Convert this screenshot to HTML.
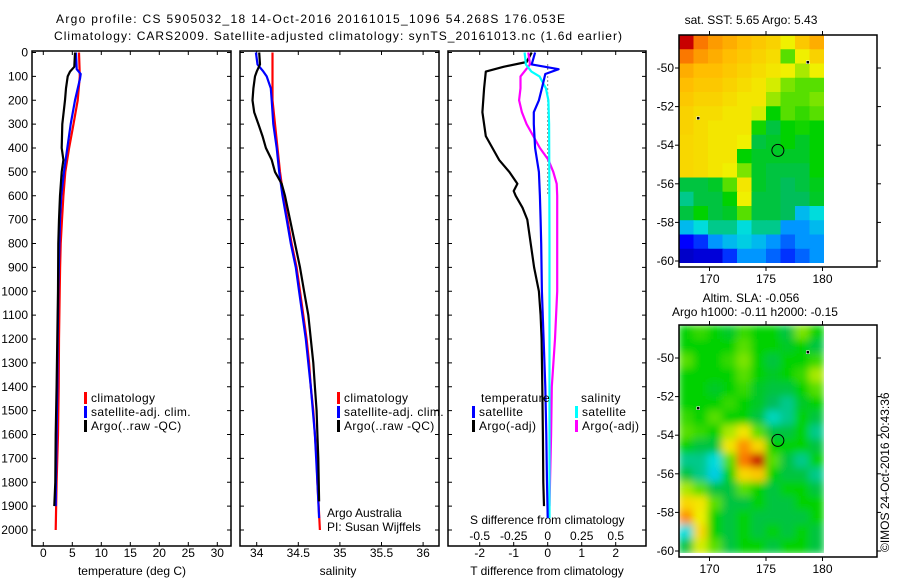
<!DOCTYPE html>
<html><head><meta charset="utf-8"><style>
body{margin:0;background:#fff;}
svg{display:block;font-family:"Liberation Sans",sans-serif;font-size:12px;}
.ls{letter-spacing:0.4px;}
</style></head><body>
<svg id="c" width="900" height="580" xmlns="http://www.w3.org/2000/svg">
<text x="56" y="23" textLength="509" lengthAdjust="spacing">Argo profile: CS 5905032_18 14-Oct-2016 20161015_1096 54.268S 176.053E</text>
<text x="54" y="40" textLength="568" lengthAdjust="spacing">Climatology: CARS2009. Satellite-adjusted climatology: synTS_20161013.nc (1.6d earlier)</text>
<text x="751" y="24" text-anchor="middle">sat. SST: 5.65 Argo: 5.43</text>
<text x="751" y="302" text-anchor="middle">Altim. SLA: -0.056</text>
<text x="755" y="316" text-anchor="middle">Argo h1000: -0.11 h2000: -0.15</text>
<text transform="translate(889,552) rotate(-90)">©IMOS 24-Oct-2016 20:43:36</text>
<text x="327" y="517">Argo Australia</text>
<text x="327" y="531">PI: Susan Wijffels</text>
<text x="470" y="524">S difference from climatology</text>
<text x="132" y="575" text-anchor="middle">temperature (deg C)</text>
<text x="338" y="575" text-anchor="middle">salinity</text>
<text x="547" y="575" text-anchor="middle">T difference from climatology</text>
<g id="g"></g>
</svg>
<script>
// ---------- data ----------
const depthTicks=[0,100,200,300,400,500,600,700,800,900,1000,1100,1200,1300,1400,1500,1600,1700,1800,1900,2000];
const tTicks=[0,5,10,15,20,25,30];
const sTicks=[34,34.5,35,35.5,36];
const dTTicks=[-2,-1,0,1,2];
const dSTicks=[-0.5,-0.25,0,0.25,0.5];
const dSTickLabels=["-0.5","-0.25","0","0.25","0.5"];
const latTicks=[-50,-52,-54,-56,-58,-60];
const lonTicks=[170,175,180];

const climDepth=[0,100,200,300,400,500,600,700,800,900,1000,1200,1400,1600,1800,2000];
const climT=[6.15,6.3,5.93,5.2,4.45,3.8,3.46,3.23,3.0,2.9,2.82,2.71,2.65,2.53,2.3,2.13];
const satDepthT=[0,70,90,110,200,300,400,500,600,700,800,1000,1200,1400,1600,1800,1900];
const satT=[5.64,5.75,6.44,6.33,5.46,4.72,4.14,3.57,3.1,2.88,2.77,2.59,2.48,2.42,2.3,2.18,2.13];
const argoDepthT=[0,60,80,100,150,200,300,400,450,500,600,700,800,1000,1200,1400,1600,1800,1900];
const argoT=[5.47,5.35,4.6,4.2,3.91,3.74,3.28,3.17,3.46,3.17,2.88,2.71,2.59,2.53,2.42,2.3,2.13,2.07,1.9];

const climDepthS=[0,100,200,300,400,500,600,700,800,900,1000,1100,1200,1300,1400,1500,1600,1700,1800,1900,2000];
const climS=[34.19,34.19,34.19,34.22,34.25,34.28,34.32,34.37,34.42,34.48,34.52,34.56,34.6,34.63,34.65,34.68,34.7,34.72,34.73,34.745,34.76];
const satDepthS=[0,50,80,100,150,200,300,400,500,600,700,800,900,1000,1200,1400,1600,1800,1950];
const satS=[33.99,34.01,34.08,34.12,34.17,34.18,34.2,34.24,34.27,34.31,34.36,34.41,34.47,34.51,34.59,34.65,34.7,34.73,34.75];
const argoDepthS=[0,50,80,100,150,200,250,300,350,400,450,500,550,600,700,800,900,1000,1100,1200,1300,1400,1500,1600,1700,1880];
const argoS=[34.03,34.04,34.0,33.98,33.96,33.95,33.97,34.02,34.07,34.11,34.18,34.22,34.3,34.34,34.4,34.46,34.52,34.57,34.62,34.65,34.68,34.7,34.72,34.73,34.74,34.75];

const dDepthArgoT=[0,40,60,80,150,250,350,450,500,550,580,600,650,700,800,900,1000,1100,1200,1400,1600,1800,1900];
const dArgoT=[-0.47,-0.62,-1.3,-1.82,-1.87,-1.92,-1.82,-1.43,-1.13,-0.89,-1.0,-0.94,-0.74,-0.6,-0.5,-0.4,-0.26,-0.21,-0.18,-0.16,-0.14,-0.13,-0.11];
const dDepthSatT=[0,50,70,90,150,200,250,300,400,500,600,700,800,1000,1200,1400,1600,1800,1950];
const dSatT=[-0.37,-0.47,0.32,-0.07,-0.17,-0.26,-0.41,-0.41,-0.37,-0.26,-0.23,-0.21,-0.19,-0.17,-0.12,-0.07,-0.04,-0.02,0.0];
const dDepthSatS=[0,50,80,100,150,200,300,500,800,1200,1950];
const dSatS=[-0.17,-0.16,-0.12,-0.06,-0.013,0.005,0.01,0.012,0.013,0.013,0.013];
const dDepthArgoS=[0,50,100,150,200,250,300,350,400,450,500,550,600,800,1000,1200,1400,1600,1800,1900];
const dArgoS=[-0.143,-0.13,-0.2,-0.2,-0.21,-0.19,-0.155,-0.106,-0.057,0.005,0.041,0.066,0.07,0.07,0.07,0.054,0.03,0.025,0.017,0.013];

const sstGrid=[
[0.95,0.88,0.84,0.82,0.8,0.78,0.76,0.7,0.78,0.82],
[0.88,0.84,0.82,0.8,0.78,0.76,0.74,0.6,0.7,0.76],
[0.82,0.8,0.8,0.78,0.76,0.74,0.72,0.7,0.65,0.7],
[0.8,0.78,0.78,0.76,0.74,0.72,0.68,0.62,0.6,0.6],
[0.78,0.76,0.76,0.74,0.72,0.72,0.64,0.6,0.6,0.62],
[0.76,0.74,0.74,0.72,0.72,0.68,0.55,0.6,0.58,0.6],
[0.76,0.74,0.72,0.72,0.72,0.56,0.5,0.55,0.56,0.55],
[0.75,0.74,0.72,0.72,0.7,0.5,0.52,0.55,0.52,0.55],
[0.75,0.74,0.72,0.72,0.55,0.52,0.52,0.52,0.52,0.55],
[0.75,0.74,0.72,0.7,0.62,0.52,0.5,0.5,0.5,0.55],
[0.5,0.5,0.52,0.6,0.72,0.52,0.5,0.48,0.5,0.53],
[0.45,0.5,0.5,0.55,0.7,0.5,0.5,0.48,0.48,0.52],
[0.5,0.55,0.5,0.52,0.6,0.5,0.5,0.48,0.35,0.4],
[0.35,0.4,0.45,0.45,0.4,0.45,0.45,0.3,0.3,0.35],
[0.15,0.2,0.3,0.35,0.38,0.35,0.3,0.25,0.3,0.3],
[0.08,0.1,0.1,0.2,0.3,0.3,0.25,0.2,0.25,0.3]];
const slaGrid=[
[.55,.58,.55,.52,.58,.55,.55,.5,.62,.55],
[.55,.55,.55,.55,.6,.55,.55,.52,.55,.5],
[.6,.55,.55,.58,.62,.55,.5,.55,.55,.58],
[.55,.55,.55,.55,.6,.55,.52,.55,.58,.65],
[.55,.55,.52,.55,.58,.52,.5,.5,.55,.6],
[.55,.55,.55,.58,.55,.52,.48,.45,.52,.55],
[.58,.55,.6,.55,.55,.5,.42,.45,.55,.5],
[.6,.58,.55,.65,.72,.6,.5,.5,.55,.45],
[.55,.5,.5,.72,.85,.75,.55,.55,.55,.5],
[.45,.45,.4,.6,.88,.95,.6,.5,.45,.55],
[.5,.45,.38,.55,.75,.78,.55,.5,.5,.45],
[.65,.6,.5,.5,.6,.55,.5,.55,.55,.5],
[.75,.72,.6,.5,.5,.55,.5,.5,.55,.55],
[.85,.7,.55,.5,.55,.5,.5,.5,.5,.55],
[.4,.75,.55,.5,.55,.5,.55,.5,.55,.5],
[.5,.68,.6,.5,.55,.55,.5,.55,.55,.5]];
const argoLon=176.05, argoLat=-54.27;
const otherFloatsLon=[169.0,178.7], otherFloatsLat=[-52.6,-49.7];

// ---------- helpers ----------
const NS="http://www.w3.org/2000/svg";
const G=document.getElementById('g');
function mk(tag,attrs,parent){const e=document.createElementNS(NS,tag);for(const k in attrs)e.setAttribute(k,attrs[k]);(parent||G).appendChild(e);return e;}
const Y0=52.5, Y1=530;
const yD=d=>Y0+(Y1-Y0)*d/2000;
const P1={l:32,r:231,t:51,b:546}, P2={l:240,r:439,t:51,b:546}, P3={l:448,r:646,t:51,b:546};
const xT=v=>43.3+v*5.8;
const xS=v=>256.7+(v-34)*83.2;
const xDT=v=>547.7+v*34;
const xDS=v=>547.7+v*136;

function box(P,name){
  const r=mk('rect',{x:P.l,y:P.t,width:P.r-P.l,height:P.b-P.t,fill:'none',stroke:'#000','stroke-width':1.5});
  
  
}
function yticks(P,labels){
  depthTicks.forEach(d=>{
    const y=yD(d);
    mk('line',{x1:P.l,x2:P.l+4,y1:y,y2:y,stroke:'#000'});
    mk('line',{x1:P.r,x2:P.r-4,y1:y,y2:y,stroke:'#000'});
    if(labels){const t=mk('text',{x:P.l-4,y:y+4,'text-anchor':'end'});t.textContent=d;
      
      }
  });
}
function xticks(P,ticks,fx,ly,labels){
  ticks.forEach((v,i)=>{
    const x=fx(v);
    mk('line',{x1:x,x2:x,y1:P.b,y2:P.b-4,stroke:'#000'});
    mk('line',{x1:x,x2:x,y1:P.t,y2:P.t+4,stroke:'#000'});
    const t=mk('text',{x:x,y:ly,'text-anchor':'middle'});t.textContent=labels?labels[i]:v;
    
    
  });
}
function line(depths,vals,fx,color,name){
  const pts=depths.map((d,i)=>fx(vals[i]).toFixed(1)+','+yD(d).toFixed(1)).join(' ');
  const p=mk('polyline',{points:pts,fill:'none',stroke:color,'stroke-width':2.2,'stroke-linejoin':'round'});
  
  
}
function legend(x,y,color,text,name){
  mk('rect',{x:x,y:y-10,width:3,height:12,fill:color});
  const t=mk('text',{x:x+7,y:y,'class':'ls'});t.textContent=text;
  
  
}

// panel 1
box(P1,'temperature-panel');
yticks(P1,true);
xticks(P1,tTicks,xT,557);
line(climDepth,climT,xT,'#f00','temp-climatology-line');
line(satDepthT,satT,xT,'#00f','temp-satellite-line');
line(argoDepthT,argoT,xT,'#000','temp-argo-line');
legend(84,402,'#f00','climatology','legend-climatology');
legend(84,416,'#00f','satellite-adj. clim.','legend-satellite');
legend(84,430,'#000','Argo(..raw -QC)','legend-argo');

// panel 2
box(P2,'salinity-panel');
yticks(P2,false);
xticks(P2,sTicks,xS,557);
line(climDepthS,climS,xS,'#f00','sal-climatology-line');
line(satDepthS,satS,xS,'#00f','sal-satellite-line');
line(argoDepthS,argoS,xS,'#000','sal-argo-line');
legend(337,402,'#f00','climatology','legend-climatology-2');
legend(337,416,'#00f','satellite-adj. clim.','legend-satellite-2');
legend(337,430,'#000','Argo(..raw -QC)','legend-argo-2');

// panel 3
box(P3,'difference-panel');
yticks(P3,false);
xticks(P3,dTTicks,xDT,557);
dSTicks.forEach((v,i)=>{const t=mk('text',{x:xDS(v),y:540,'text-anchor':'middle'});t.textContent=dSTickLabels[i];
  
  });
mk('line',{x1:xDT(0),x2:xDT(0),y1:yD(50),y2:yD(600),stroke:'#000','stroke-dasharray':'1,3'});
line(dDepthArgoT,dArgoT,xDT,'#000','tdiff-argo-line');
line(dDepthArgoS,dArgoS,xDS,'#f0f','sdiff-argo-line');
line(dDepthSatS,dSatS,xDS,'#0ff','sdiff-satellite-line');
line(dDepthSatT,dSatT,xDT,'#00f','tdiff-satellite-line');
{const t=mk('text',{x:481,y:402,'class':'ls'});t.textContent='temperature';
 
 }
{const t=mk('text',{x:581,y:402,'class':'ls'});t.textContent='salinity';
 
 }
legend(472,416,'#00f','satellite','legend-t-satellite');
legend(472,430,'#000','Argo(-adj)','legend-t-argo');
legend(575,416,'#0ff','satellite','legend-s-satellite');
legend(575,430,'#f0f','Argo(-adj)','legend-s-argo');

// maps
const stops=[[0,[0,0,140]],[0.15,[0,0,255]],[0.3,[0,150,255]],[0.4,[0,220,220]],[0.48,[0,190,90]],[0.55,[0,210,0]],[0.63,[140,230,0]],[0.7,[240,240,0]],[0.8,[255,190,0]],[0.88,[250,120,0]],[0.95,[200,0,0]],[1,[128,0,0]]];
function cmap(v){for(let i=1;i<stops.length;i++){if(v<=stops[i][0]){const a=stops[i-1],b=stops[i],f=(v-a[0])/(b[0]-a[0]);return 'rgb('+a[1].map((c,k)=>Math.round(c+(b[1][k]-c)*f)).join(',')+')';}}return 'rgb(128,0,0)';}
const lonX=lon=>679+(lon-167.3)*11.3;
function drawMap(top,grid,name,blur){
  const M={l:679,r:877,t:top,b:top+232};
  const imgW=145,imgH=228;
  const grp=mk('g',{});
  
  
  const cid='clip'+top;
  const cp=mk('clipPath',{id:cid},grp);mk('rect',{x:679,y:top,width:imgW,height:imgH},cp);
  const inner=mk('g',{'clip-path':'url(#'+cid+')'},grp);
  const g2=mk('g',blur?{filter:'url(#bl)'}:{},inner);
  const rows=grid.length,cols=grid[0].length,cw=imgW/cols,ch=imgH/rows;
  grid.forEach((row,r)=>row.forEach((v,c)=>{
    const e=mk('rect',{x:679+c*cw-(blur?0.5:0),y:top+r*ch,width:cw+1,height:ch+1,fill:cmap(v)},g2);
    
    
  }));
  const latY=lat=>top+33+(-50-lat)*19.3;
  mk('rect',{x:M.l,y:M.t,width:M.r-M.l,height:M.b-M.t,fill:'none',stroke:'#000','stroke-width':1.5});
  latTicks.forEach(l=>{const y=latY(l);
    mk('line',{x1:M.l-4,x2:M.l,y1:y,y2:y,stroke:'#000'});mk('line',{x1:M.r,x2:M.r+4,y1:y,y2:y,stroke:'#000'});
    const t=mk('text',{x:M.l-5,y:y+4,'text-anchor':'end'});t.textContent=l;
    
    });
  lonTicks.forEach(l=>{const x=lonX(l);
    mk('line',{x1:x,x2:x,y1:M.t-4,y2:M.t,stroke:'#000'});mk('line',{x1:x,x2:x,y1:M.b,y2:M.b+4,stroke:'#000'});
    const t=mk('text',{x:x,y:M.b+16,'text-anchor':'middle'});t.textContent=l;
    
    });
  otherFloatsLon.forEach((lo,i)=>{mk('rect',{x:lonX(lo)-1.5,y:latY(otherFloatsLat[i])-1.5,width:3,height:3,fill:'#000',stroke:'#fff','stroke-width':0.5});});
  const c=mk('circle',{cx:lonX(argoLon),cy:latY(argoLat),r:6,fill:'none',stroke:'#000'});
  
  
}
const defs=mk('defs',{});const f=mk('filter',{id:'bl',x:'-5%',y:'-5%',width:'110%',height:'110%'},defs);mk('feGaussianBlur',{stdDeviation:4},f);
drawMap(35,sstGrid,'sst-map',false);
drawMap(325,slaGrid,'sla-map',true);
</script>
</body></html>
